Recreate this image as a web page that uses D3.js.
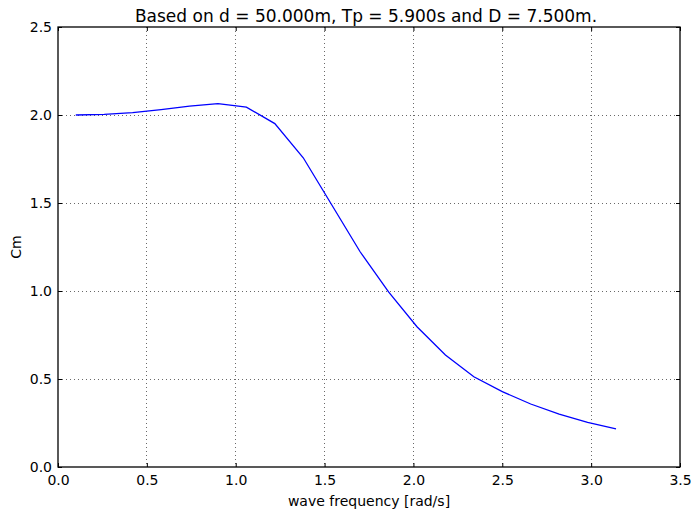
<!DOCTYPE html>
<html>
<head>
<meta charset="utf-8">
<script src="https://cdn.jsdelivr.net/npm/d3@7"></script>
<style>
  body { margin: 0; background: #fff; }
  text { font-family: "DejaVu Sans", sans-serif; }
</style>
</head>
<body>
<svg id="chart"></svg>
<script>
let freq = [0.10, 0.26, 0.42, 0.58, 0.74, 0.90, 1.06, 1.22, 1.38, 1.54,
            1.70, 1.86, 2.02, 2.18, 2.34, 2.50, 2.66, 2.82, 2.98, 3.14]
let cm = [2.000, 2.004, 2.013, 2.030, 2.050, 2.065, 2.045, 1.951, 1.757, 1.490,
          1.223, 0.995, 0.797, 0.636, 0.513, 0.428, 0.358, 0.301, 0.254, 0.216]
let xTicks = [0.0, 0.5, 1.0, 1.5, 2.0, 2.5, 3.0, 3.5]
let yTicks = [0.0, 0.5, 1.0, 1.5, 2.0, 2.5]

let w = 691, h = 516
let margin = {left: 58, right: 11, top: 27, bottom: 49}
let pw = w - margin.left - margin.right
let ph = h - margin.top - margin.bottom

let svg = d3.select("#chart").attr("width", w).attr("height", h)

let x = d3.scaleLinear().domain([0, 3.5]).range([0, pw])
let y = d3.scaleLinear().domain([0, 2.5]).range([ph, 0])

let g = svg.append("g").attr("transform", `translate(${margin.left},${margin.top})`)

// grid
g.append("g").selectAll("line").data(xTicks.slice(1, -1)).enter().append("line")
    .attr("x1", d => x(d)).attr("x2", d => x(d))
    .attr("y1", 0).attr("y2", ph)
    .attr("stroke", "#444").attr("stroke-width", 0.8)
    .attr("stroke-dasharray", "1,3").attr("shape-rendering", "crispEdges")
g.append("g").selectAll("line").data(yTicks.slice(1, -1)).enter().append("line")
    .attr("y1", d => y(d)).attr("y2", d => y(d))
    .attr("x1", 0).attr("x2", pw)
    .attr("stroke", "#444").attr("stroke-width", 0.8)
    .attr("stroke-dasharray", "1,3").attr("shape-rendering", "crispEdges")

// axes, ticks inward on all sides
let xb = g.append("g").attr("transform", `translate(0,${ph})`)
    .call(d3.axisBottom(x).tickValues(xTicks).tickFormat(d3.format(".1f")).tickSizeInner(-4).tickSizeOuter(0).tickPadding(8))
let xt = g.append("g")
    .call(d3.axisTop(x).tickValues(xTicks).tickFormat("").tickSizeInner(-4).tickSizeOuter(0))
let yl = g.append("g")
    .call(d3.axisLeft(y).tickValues(yTicks).tickFormat(d3.format(".1f")).tickSizeInner(-4).tickSizeOuter(0).tickPadding(6))
let yr = g.append("g").attr("transform", `translate(${pw},0)`)
    .call(d3.axisRight(y).tickValues(yTicks).tickFormat("").tickSizeInner(-4).tickSizeOuter(0))

for (let a of [xb, xt, yl, yr]) {
    a.select(".domain").remove()
    a.selectAll("line").attr("stroke", "#000")
    a.selectAll("text").attr("fill", "#000").style("font-size", "14px")
        .style("font-family", "DejaVu Sans, sans-serif")
}

g.append("rect").attr("width", pw).attr("height", ph)
    .attr("fill", "none").attr("stroke", "#000").attr("stroke-width", 1.3)

// data line
let line = d3.line().x((d, i) => x(freq[i])).y(d => y(d))
g.append("path").datum(cm)
    .attr("d", line)
    .attr("fill", "none").attr("stroke", "#0000ff").attr("stroke-width", 1.3)

// labels
svg.append("text").attr("x", margin.left + pw / 2 - 3).attr("y", 22)
    .attr("text-anchor", "middle").style("font-size", "17px")
    .text("Based on d = 50.000m, Tp = 5.900s and D = 7.500m.")
svg.append("text").attr("x", margin.left + pw / 2).attr("y", 506)
    .attr("text-anchor", "middle").style("font-size", "14px")
    .text("wave frequency [rad/s]")
svg.append("text").attr("transform", `translate(21,${margin.top + ph / 2}) rotate(-90)`)
    .attr("text-anchor", "middle").style("font-size", "14px")
    .text("Cm")
</script>
</body>
</html>
